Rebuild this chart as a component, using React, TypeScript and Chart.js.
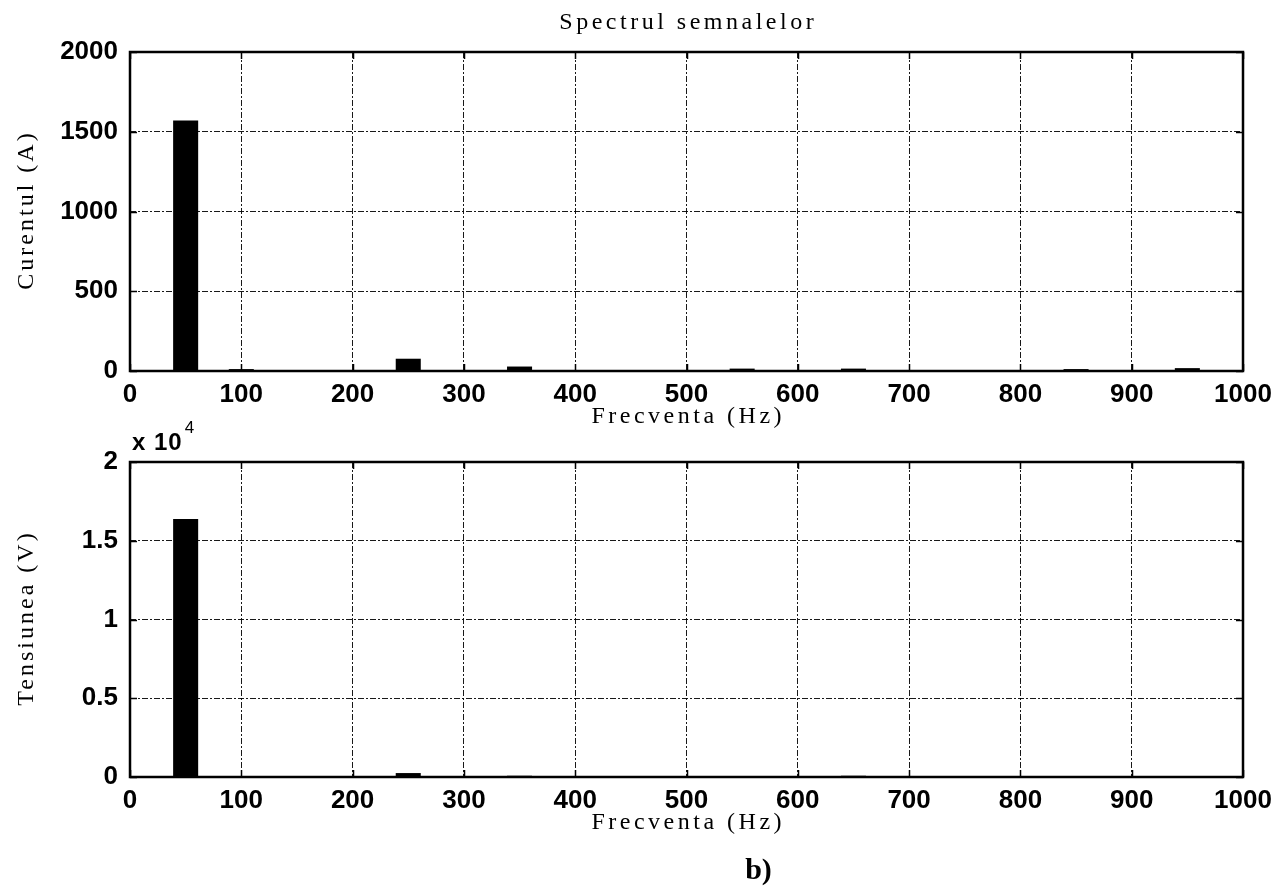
import React, { useEffect, useRef } from "react";
import { Chart, registerables } from "chart.js";

Chart.register(...registerables);

// ---- data ----
const freqs = [0, 50, 100, 150, 200, 250, 300, 350, 400, 450, 500, 550, 600, 650, 700, 750, 800, 850, 900, 950, 1000];
const currentA = [0, 1570, 12, 0, 0, 77, 0, 28, 0, 0, 0, 15, 0, 15, 0, 0, 0, 12, 0, 18, 0];
const voltageV = [0, 16380, 20, 0, 0, 250, 0, 80, 0, 0, 0, 60, 0, 80, 0, 0, 0, 60, 0, 40, 0];
const xTicks = [0, 100, 200, 300, 400, 500, 600, 700, 800, 900, 1000];
const currentTicks = [0, 500, 1000, 1500, 2000];
const voltageTicks = [0, 5000, 10000, 15000, 20000];
const voltageTickLabels = ["0", "0.5", "1", "1.5", "2"];

const TITLE = "Spectrul semnalelor";
const X_TITLE = "Frecventa (Hz)";
const Y1_TITLE = "Curentul (A)";
const Y2_TITLE = "Tensiunea (V)";
const EXP_BASE = "x 10";
const EXP_POW = "4";
const CAPTION = "b)";

const TICK_FONT = { family: "'Liberation Sans', Arial, sans-serif", size: 26, weight: "bold" as const };
const SERIF = "'Liberation Serif', 'Times New Roman', serif";

function drawSpaced(ctx: CanvasRenderingContext2D, text: string, x: number, y: number, font: string, spacing: number, rotate = false) {
  ctx.save();
  ctx.font = font;
  (ctx as any).letterSpacing = spacing + "px";
  ctx.fillStyle = "#000";
  ctx.textAlign = "center";
  ctx.textBaseline = "alphabetic";
  if (rotate) {
    ctx.translate(x, y);
    ctx.rotate(-Math.PI / 2);
    ctx.fillText(text, spacing / 2, 0);
  } else {
    ctx.fillText(text, x + spacing / 2, y);
  }
  ctx.restore();
}

function framePlugin(extra: (ctx: CanvasRenderingContext2D, a: any) => void) {
  return {
    id: "frame",
    afterDraw(chart: any) {
      const { ctx, chartArea: a, scales } = chart;
      ctx.save();
      ctx.setLineDash([]);
      ctx.strokeStyle = "#000";
      ctx.lineWidth = 1.5;
      const tl = 7;
      scales.x.ticks.forEach((t: any) => {
        const px = Math.round(scales.x.getPixelForValue(t.value)) + 0.5;
        ctx.beginPath();
        ctx.moveTo(px, a.bottom);
        ctx.lineTo(px, a.bottom - tl);
        ctx.moveTo(px, a.top);
        ctx.lineTo(px, a.top + tl);
        ctx.stroke();
      });
      scales.y.ticks.forEach((t: any) => {
        const py = Math.round(scales.y.getPixelForValue(t.value)) + 0.5;
        ctx.beginPath();
        ctx.moveTo(a.left, py);
        ctx.lineTo(a.left + tl, py);
        ctx.moveTo(a.right, py);
        ctx.lineTo(a.right - tl, py);
        ctx.stroke();
      });
      ctx.lineWidth = 2.5;
      ctx.strokeRect(a.left, a.top, a.right - a.left, a.bottom - a.top);
      ctx.restore();
      extra(ctx, a);
    },
  };
}

function makeConfig(values: number[], yTicks: number[], yLabel: (v: number) => string, xAxisHeight: number, topPad: number, plugin: any) {
  return {
    type: "bar" as const,
    data: {
      datasets: [
        {
          data: freqs.map((f, i) => ({ x: f, y: values[i] })),
          backgroundColor: "#000",
          borderWidth: 0,
          barPercentage: 0.45,
          categoryPercentage: 1.0,
        },
      ],
    },
    options: {
      responsive: false,
      maintainAspectRatio: false,
      animation: false as const,
      layout: { padding: { top: topPad, right: 38, left: 0, bottom: 0 } },
      plugins: { legend: { display: false }, title: { display: false }, tooltip: { enabled: false } },
      scales: {
        x: {
          type: "linear" as const,
          min: xTicks[0],
          max: xTicks[xTicks.length - 1],
          offset: false,
          afterBuildTicks: (s: any) => {
            s.ticks = xTicks.map((v) => ({ value: v }));
          },
          afterFit: (s: any) => {
            s.height = xAxisHeight;
            s.paddingLeft = 0;
            s.paddingRight = 0;
          },
          grid: { color: "rgba(0,0,0,0.9)", lineWidth: 1, drawTicks: false, offset: false },
          border: { display: false, dash: [6, 2, 2, 2] },
          ticks: { color: "#000", font: TICK_FONT, padding: 8, maxRotation: 0, autoSkip: false, callback: (v: any) => String(v) },
        },
        y: {
          type: "linear" as const,
          min: yTicks[0],
          max: yTicks[yTicks.length - 1],
          afterBuildTicks: (s: any) => {
            s.ticks = yTicks.map((v) => ({ value: v }));
          },
          afterFit: (s: any) => {
            s.width = 130;
            s.paddingTop = 0;
            s.paddingBottom = 0;
          },
          grid: { color: "rgba(0,0,0,0.9)", lineWidth: 1, drawTicks: false },
          border: { display: false, dash: [6, 2, 2, 2] },
          ticks: { color: "#000", font: TICK_FONT, padding: 12, callback: (v: any) => yLabel(Number(v)) },
        },
      },
    },
    plugins: [plugin],
  };
}

export default function App() {
  const c1 = useRef<HTMLCanvasElement>(null);
  const c2 = useRef<HTMLCanvasElement>(null);

  useEffect(() => {
    const p1 = framePlugin((ctx, a) => {
      const cx = (a.left + a.right) / 2;
      drawSpaced(ctx, TITLE, cx, 29, `24px ${SERIF}`, 3.5);
      drawSpaced(ctx, X_TITLE, cx, a.bottom + 52, `24px ${SERIF}`, 3.5);
      drawSpaced(ctx, Y1_TITLE, 33, (a.top + a.bottom) / 2, `24px ${SERIF}`, 3, true);
    });
    const p2 = framePlugin((ctx, a) => {
      const cx = (a.left + a.right) / 2;
      drawSpaced(ctx, X_TITLE, cx, a.bottom + 52, `24px ${SERIF}`, 3.5);
      drawSpaced(ctx, Y2_TITLE, 33, (a.top + a.bottom) / 2, `24px ${SERIF}`, 3, true);
      ctx.save();
      ctx.fillStyle = "#000";
      ctx.textAlign = "left";
      ctx.textBaseline = "alphabetic";
      ctx.font = `bold 24px 'Liberation Sans', Arial, sans-serif`;
      (ctx as any).letterSpacing = "1px";
      ctx.fillText(EXP_BASE, a.left + 2, a.top - 12);
      const w = ctx.measureText(EXP_BASE).width;
      ctx.font = `17px 'Liberation Sans', Arial, sans-serif`;
      ctx.fillText(EXP_POW, a.left + 2 + w + 2, a.top - 29);
      ctx.font = `bold 30px ${SERIF}`;
      (ctx as any).letterSpacing = "0px";
      ctx.textAlign = "center";
      ctx.fillText(CAPTION, cx + 72, a.bottom + 102);
      ctx.restore();
    });
    const ch1 = new Chart(c1.current!, makeConfig(currentA, currentTicks, (v) => String(v), 74, 52, p1) as any);
    const ch2 = new Chart(
      c2.current!,
      makeConfig(voltageV, voltageTicks, (v) => voltageTickLabels[voltageTicks.indexOf(v)] ?? "", 118, 62, p2) as any
    );
    return () => {
      ch1.destroy();
      ch2.destroy();
    };
  }, []);

  return (
    <div style={{ position: "absolute", left: 0, top: 0, width: 1281, height: 895, background: "#fff" }}>
      <canvas ref={c1} width={1281} height={445} style={{ position: "absolute", left: 0, top: 0, display: "block" }} />
      <canvas ref={c2} width={1281} height={495} style={{ position: "absolute", left: 0, top: 400, display: "block" }} />
    </div>
  );
}
